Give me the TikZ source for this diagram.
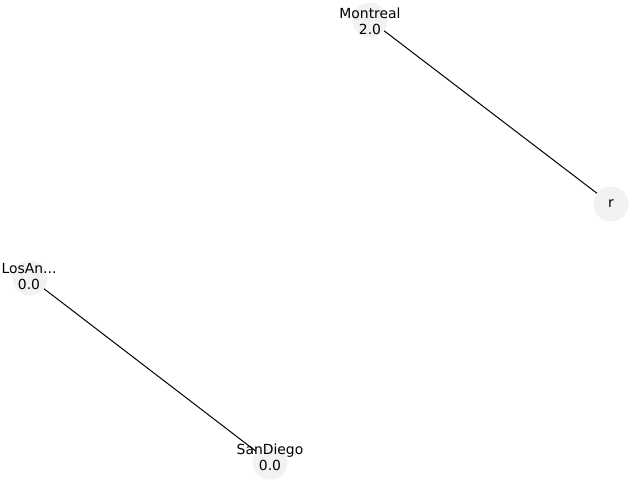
\documentclass[tikz,border=0pt]{standalone}
\usepackage{fontspec}
\setmainfont{DejaVu Sans}
\begin{document}
\begin{tikzpicture}[x=1pt,y=-1pt,
  vert/.style={circle,fill=black!5,draw=none,minimum size=35pt,inner sep=0pt},
  lbl/.style={align=center,inner sep=0pt,font=\fontsize{13.9}{16}\selectfont},
  edge/.style={draw=black,line width=1pt}]
\useasboundingbox (0,0) rectangle (640,480);
\node[vert] (m) at (370,20) {};
\node[vert] (r) at (611,204) {};
\node[vert] (l) at (30,278) {};
\node[vert] (s) at (270,462) {};
\draw[edge] (m) -- (r);
\draw[edge] (l) -- (s);
\node[lbl] (mt) at (370,21) {Montreal\\2.0};
\node[lbl] (rt) at (611,204) {r};
\node[lbl] (lt) at (29,277) {LosAn...\\0.0};
\node[lbl] (st) at (270,457) {SanDiego\\0.0};
\end{tikzpicture}
\end{document}
